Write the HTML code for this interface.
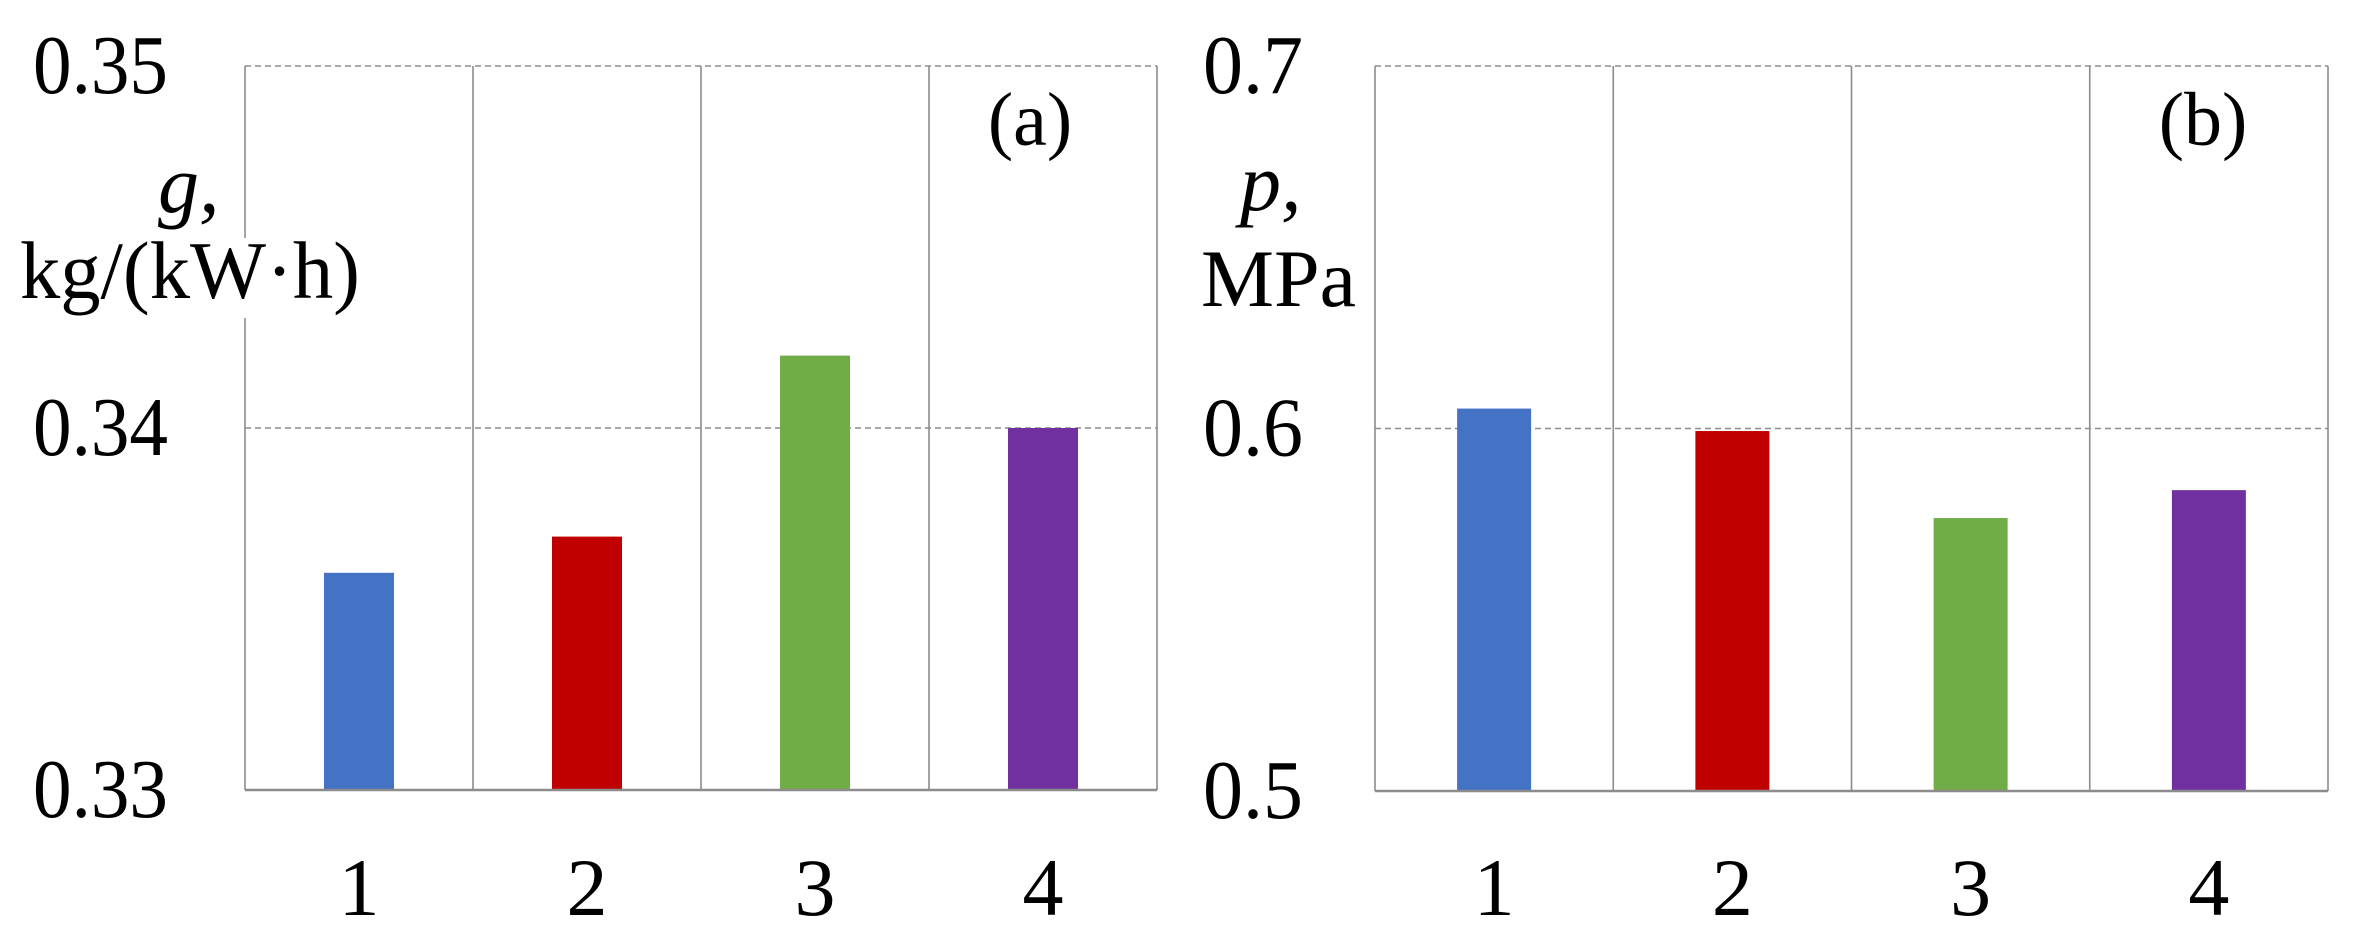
<!DOCTYPE html>
<html><head><meta charset="utf-8"><style>
html,body{margin:0;padding:0;background:#fff;}
svg{display:block;}
text{font-family:"Liberation Serif","DejaVu Serif",serif;fill:#000;}
</style></head><body>
<svg id="chart" width="2353" height="936" viewBox="0 0 2353 936" xmlns="http://www.w3.org/2000/svg"></svg>
<script>
const categories = ["1","2","3","4"];
const seriesA = [0.3360, 0.3370, 0.3420, 0.3400];
const seriesB = [0.6055, 0.5993, 0.5753, 0.5830];
const ticksA = [0.33, 0.34, 0.35];
const tickLabelsA = ["0.33","0.34","0.35"];
const ticksB = [0.5, 0.6, 0.7];
const tickLabelsB = ["0.5","0.6","0.7"];
const colors = ["#4472C4","#C00000","#70AD47","#7030A0"];

const NS = "http://www.w3.org/2000/svg";
const svg = document.getElementById("chart");
function mk(tag, attrs, parent){
  const e = document.createElementNS(NS, tag);
  for (const k in attrs) e.setAttribute(k, attrs[k]);
  (parent||svg).appendChild(e);
  return e;
}

function panel(cfg){
  const g = mk("g", {});
  
  
  const {x0, x1, yTop, yBot, min, max} = cfg;
  const cw = (x1 - x0) / cfg.cats.length;
  const y = v => yBot - (v - min) / (max - min) * (yBot - yTop);
  const xc = i => x0 + cw * (i + 0.5);
  // gridlines
  cfg.ticks.forEach((t, i) => {
    const gy = y(t);
    if (i > 0) {
      const l = mk("line", {x1:x0, x2:x1, y1:gy, y2:gy, stroke:"#8c8c8c", "stroke-width":1.6, "stroke-dasharray":"6,4"}, g);
      
      
    }
    const tl = mk("text", {x:cfg.tickX, y:gy + 27, "font-size":84, textLength:cfg.tickW, lengthAdjust:"spacingAndGlyphs"}, g);
    tl.textContent = cfg.tickLabels[i];
    
    
  });
  // vertical dividers
  for (let i = 0; i <= cfg.cats.length; i++) {
    const vx = x0 + cw * i;
    const l = mk("line", {x1:vx, x2:vx, y1:yTop, y2:yBot, stroke:"#8c8c8c", "stroke-width":1.6}, g);
    
    
  }
  // bars
  cfg.vals.forEach((v, i) => {
    const by = y(v);
    const r = mk("rect", {x:xc(i) - cfg.bw/2, y:by, width:cfg.bw, height:yBot - by, fill:colors[i]}, g);
    
    
    const t = mk("text", {x:xc(i), y:915, "font-size":82, "text-anchor":"middle"}, g);
    t.textContent = cfg.cats[i];
    
    
  });
  const b = mk("line", {x1:x0, x2:x1, y1:yBot, y2:yBot, stroke:"#8c8c8c", "stroke-width":2.5}, g);
  
  
  return g;
}

const gA = panel({name:"panel-a", x0:245, x1:1157, yTop:66, yBot:790, min:0.33, max:0.35,
  cats:categories, vals:seriesA, ticks:ticksA, tickLabels:tickLabelsA, tickX:33, tickW:135, bw:70});
const gB = panel({name:"panel-b", x0:1375, x1:2328, yTop:66, yBot:791, min:0.5, max:0.7,
  cats:categories, vals:seriesB, ticks:ticksB, tickLabels:tickLabelsB, tickX:1203, tickW:100, bw:74});

// axis titles
const bgA = mk("rect", {x:18, y:238, width:346, height:80, fill:"#fff"});


const t1 = mk("text", {x:158, y:212, "font-size":82, "font-style":"italic"});
t1.textContent = "g,";


const t2 = mk("text", {x:20, y:298, "font-size":82, textLength:340, lengthAdjust:"spacingAndGlyphs"});
t2.textContent = "kg/(kW·h)";


const t3 = mk("text", {x:1240, y:210, "font-size":82, "font-style":"italic"});
t3.textContent = "p,";


const t4 = mk("text", {x:1201, y:306, "font-size":82, textLength:155, lengthAdjust:"spacingAndGlyphs"});
t4.textContent = "MPa";


const la = mk("text", {x:1030, y:145, "font-size":76, "text-anchor":"middle"});
la.textContent = "(a)";


const lb = mk("text", {x:2203, y:145, "font-size":76, "text-anchor":"middle"});
lb.textContent = "(b)";


</script>
</body></html>
